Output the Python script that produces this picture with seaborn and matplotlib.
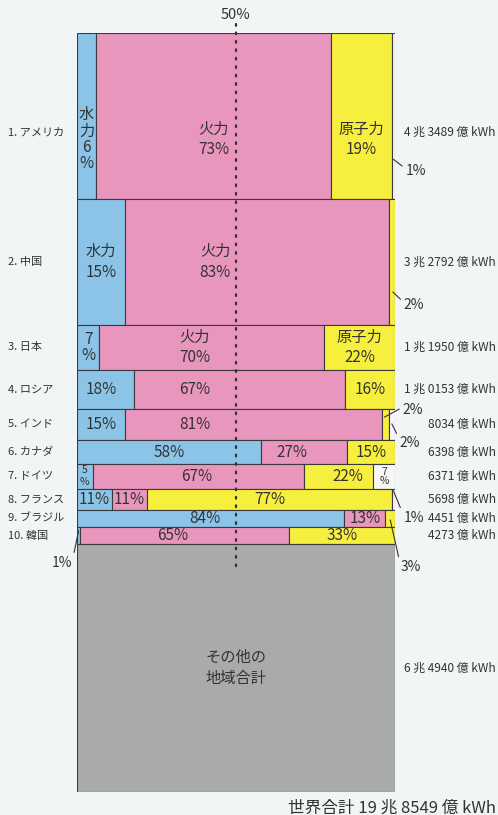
import numpy as np
import pandas as pd
import matplotlib
matplotlib.use("Agg")
import matplotlib.pyplot as plt
import seaborn as sns

# 国別発電量と電源構成(%)
countries = ['1. アメリカ', '2. 中国', '3. 日本', '4. ロシア', '5. インド', '6. カナダ',
             '7. ドイツ', '8. フランス', '9. ブラジル', '10. 韓国', 'その他']
totals = [43489, 32792, 11950, 10153, 8034, 6398, 6371, 5698, 4451, 4273, 64940]
total_labels = ['4 兆 3489 億 kWh', '3 兆 2792 億 kWh', '1 兆 1950 億 kWh', '1 兆 0153 億 kWh',
                '8034 億 kWh', '6398 億 kWh', '6371 億 kWh', '5698 億 kWh', '4451 億 kWh',
                '4273 億 kWh', '6 兆 4940 億 kWh']
hydro = [6, 15, 7, 18, 15, 58, 5, 11, 84, 1, 0]
thermal = [73, 83, 70, 67, 81, 27, 67, 11, 13, 65, 0]
nuclear = [19, 2, 22, 16, 2, 15, 22, 77, 3, 33, 0]
other = [1, 0, 0, 0, 2, 0, 7, 1, 0, 0, 100]

hydro_text = ['水\n力\n6\n%', '水力\n15%', '7\n%', '18%', '15%', '58%', '5\n%', '11%', '84%', '', '']
thermal_text = ['火力\n73%', '火力\n83%', '火力\n70%', '67%', '81%', '27%', '67%', '11%', '13%', '65%', '']
nuclear_text = ['原子力\n19%', '', '原子力\n22%', '16%', '', '15%', '22%', '77%', '', '33%', '']
other_text = ['', '', '', '', '', '', '7\n%', '', '', '', 'その他の\n地域合計']
world_label = '世界合計 19 兆 8549 億 kWh'

sns.set_theme(style='white')
plt.rcParams['font.family'] = ['Noto Sans CJK JP', 'DejaVu Sans']

bg = '#f2f5f5'
ink = '#333333'
edge = '#3a3a3a'
colors = {'hydro': '#8cc4e8', 'thermal': '#e996be', 'nuclear': '#f7ef3e', 'other': '#f7f7f7'}
rest_color = '#a9abab'

# 点線をよけるためにずらしたラベル位置(%)
label_x = {(1, 'thermal'): 43.4, (2, 'thermal'): 37, (3, 'thermal'): 37, (4, 'thermal'): 37,
           (5, 'thermal'): 67.6, (6, 'thermal'): 37.7, (6, 'nuclear'): 85.2,
           (8, 'hydro'): 40.3, (9, 'thermal'): 30, (3, 'hydro'): 7.5}

df = pd.DataFrame({'country': countries, 'total': totals, 'hydro': hydro,
                   'thermal': thermal, 'nuclear': nuclear, 'other': other})
df['top'] = df['total'].cumsum() - df['total']
df['mid'] = df['top'] + df['total'] / 2
grand = df['total'].sum()

fig = plt.figure(figsize=(4.98, 8.15), dpi=100, facecolor=bg)
ax = fig.add_axes([77 / 498, 1 - 792 / 815, 318 / 498, 759 / 815])
ax.set_facecolor('none')

texts = {'hydro': hydro_text, 'thermal': thermal_text, 'nuclear': nuclear_text, 'other': other_text}

for i, row in df.iterrows():
    parts = ['hydro', 'thermal', 'nuclear', 'other']
    s = sum(row[p] for p in parts)
    left = 0.0
    ymid = row['mid']
    # アメリカは文字が少し下寄り
    ytxt = ymid + (0.14 * row['total'] if i == 0 else 0)
    for p in parts:
        w = row[p] / s * 100
        if w <= 0:
            continue
        col = rest_color if row['country'] == 'その他' else colors[p]
        ax.barh(ymid, w, left=left, height=row['total'], color=col,
                edgecolor=edge, linewidth=0.8, zorder=1)
        t = texts[p][i]
        if t:
            fs = 7.5 if i == 6 and '\n' in t else 11
            ls = 0.95 if t.count('\n') > 1 or t.startswith('7') else 1.25
            xt = label_x.get((i, p), left + w / 2)
            ax.text(xt, ytxt, t, ha='center', va='center', fontsize=fs,
                    color=ink, linespacing=ls, zorder=4)
        left += w
    # 国名・合計
    ylab = ymid + (0.1 * row['total'] if i == 0 else 0)
    if row['country'] != 'その他':
        ax.text(-0.217, ylab, row['country'], transform=ax.get_yaxis_transform(),
                ha='left', va='center', fontsize=8, color=ink)
    ax.text(1.3176, ylab, total_labels[i], transform=ax.get_yaxis_transform(),
            ha='right', va='center', fontsize=8.6, color=ink)

# 50% dotted line
y_end = df.loc[10, 'top'] + 0.1 * df.loc[10, 'total']
ax.plot([50, 50], [-0.012 * grand, y_end], ls=(0, (0.8, 3)), lw=1.6, color=ink,
        clip_on=False, dash_capstyle='round', zorder=3)
ax.text(50, 1.024, '50%', transform=ax.get_xaxis_transform(), ha='center',
        va='center', fontsize=10.5, color=ink)

# small share callouts: (row, x, frac of row, dx px, dy px, text, ha)
callouts = [
    (0, 99.5, 0.76, 12, -12, '1%', 'left'),
    (1, 99.3, 0.74, 11, -13, '2%', 'left'),
    (4, 96.7, 0.26, 18, 7, '2%', 'left'),
    (4, 99.0, 0.48, 8, -19, '2%', 'left'),
    (7, 99.5, 0.10, 10, -27, '1%', 'left'),
    (8, 98.5, 0.56, 10, -47, '3%', 'left'),
    (9, 0.5, 0.20, -6, -32, '1%', 'right'),
]
for r, x, f, dx, dy, t, ha in callouts:
    y = df.loc[r, 'top'] + f * df.loc[r, 'total']
    ax.annotate(t, xy=(x, y), xytext=(dx, dy), textcoords='offset pixels',
                ha=ha, va='center', fontsize=10, color=ink, annotation_clip=False,
                arrowprops=dict(arrowstyle='-', color=ink, lw=0.8, shrinkA=0, shrinkB=0,
                                relpos=(0, 0.7) if ha == 'left' else (1, 0.7)))

ax.text(1.3176, -0.021, world_label, transform=ax.transAxes, ha='right', va='center',
        fontsize=12, color=ink)

ax.set_xlim(0, 100)
ax.set_ylim(grand, 0)
ax.axis('off')

fig.savefig('out.png', dpi=100, facecolor=bg)
